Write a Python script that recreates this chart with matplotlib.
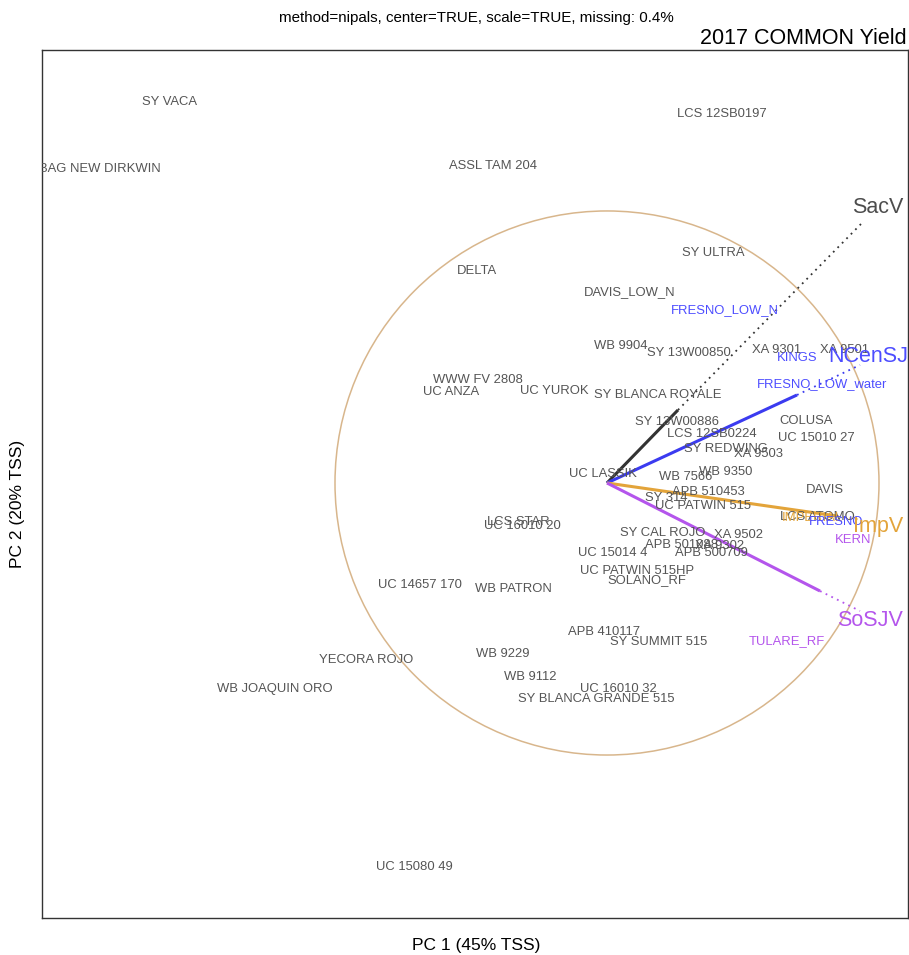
import numpy as np
import matplotlib
matplotlib.use("Agg")
import matplotlib.pyplot as plt
from matplotlib.patches import Circle

plt.rcParams['font.family'] = ['Liberation Sans', 'DejaVu Sans']

# genotype scores (PC1, PC2)
genotypes = ["SY VACA", "BAG NEW DIRKWIN", "ASSL TAM 204", "LCS 12SB0197", "SY ULTRA",
             "DELTA", "DAVIS_LOW_N", "WB 9904", "SY 13W00850", "XA 9301", "XA 9501",
             "WWW FV 2808", "UC ANZA", "UC YUROK", "SY BLANCA ROYALE", "SY 13W00886",
             "LCS 12SB0224", "COLUSA", "UC 15010 27", "SY REDWING", "XA 9503", "UC LASSIK",
             "WB 7566", "WB 9350", "DAVIS", "APB 510453", "SY 314", "UC PATWIN 515",
             "LCS ATOMO", "LCS STAR", "UC 16010 20", "SY CAL ROJO", "XA 9502", "APB 501088",
             "XA 9302", "APB 500709", "UC 15014 4", "UC PATWIN 515HP", "SOLANO_RF",
             "UC 14657 170", "WB PATRON", "APB 410117", "SY SUMMIT 515", "WB 9229",
             "YECORA ROJO", "WB JOAQUIN ORO", "WB 9112", "UC 16010 32",
             "SY BLANCA GRANDE 515", "UC 15080 49"]
gen_x = [-4.37, -5.07, -1.14, 1.15, 1.06, -1.30, 0.23, 0.14, 0.82, 1.70, 2.38,
         -1.29, -1.56, -0.53, 0.51, 0.70, 1.05, 1.99, 2.09, 1.19, 1.52, -0.04,
         0.79, 1.19, 2.18, 1.01, 0.59, 0.96, 2.10, -0.89, -0.85, 0.56, 1.32, 0.75,
         1.13, 1.04, 0.06, 0.30, 0.40, -1.87, -0.94, -0.03, 0.52, -1.04,
         -2.41, -3.32, -0.77, 0.11, -0.11, -1.93]
gen_y = [3.81, 3.14, 3.17, 3.69, 2.30, 2.12, 1.91, 1.37, 1.30, 1.33, 1.33,
         1.03, 0.91, 0.92, 0.88, 0.61, 0.49, 0.62, 0.45, 0.34, 0.29, 0.09,
         0.06, 0.11, -0.07, -0.09, -0.15, -0.23, -0.34, -0.39, -0.43, -0.50, -0.52, -0.62,
         -0.63, -0.70, -0.70, -0.88, -0.97, -1.02, -1.06, -1.49, -1.59, -1.71,
         -1.77, -2.06, -1.94, -2.06, -2.16, -3.84]

# environment group vectors
groups = ["SacV", "NCenSJ", "ImpV", "SoSJV"]
grp_colors = ["#333333", "#3b3bf0", "#e3a43a", "#b455ec"]
grp_label_colors = ["#4d4d4d", "#4d4dff", "#e3a43a", "#b455ec"]
vec_x = [0.71, 1.90, 2.30, 2.13]
vec_y = [0.73, 0.88, -0.33, -1.08]
ext_x = [2.55, 2.53, 2.55, 2.53]
ext_y = [2.60, 1.18, -0.37, -1.28]
lab_x = [2.71, 2.61, 2.71, 2.63]
lab_y = [2.75, 1.26, -0.44, -1.37]

# environments that carry a group colour
envs = ["FRESNO_LOW_N", "KINGS", "FRESNO_LOW_water", "IMPERIAL", "FRESNO", "KERN", "TULARE_RF"]
env_group = [1, 1, 1, 2, 1, 3, 3]
env_x = [1.18, 1.90, 2.15, 2.05, 2.29, 2.46, 1.80]
env_y = [1.73, 1.25, 0.99, -0.35, -0.39, -0.57, -1.58]

radius = 2.72

fig = plt.figure(figsize=(9.09, 9.55), dpi=100)
ax = fig.add_axes([0.0462, 0.0387, 0.9527, 0.909])
ax.set_xlim(-5.65, 3.01)
ax.set_ylim(-4.35, 4.33)
ax.set_xticks([])
ax.set_yticks([])
for s in ax.spines.values():
    s.set_linewidth(1.0)
    s.set_color("#333333")

ax.add_patch(Circle((0, 0), radius, fill=False, edgecolor="#d8b68c", linewidth=1.1))

for i, g in enumerate(groups):
    ax.plot([0, vec_x[i]], [0, vec_y[i]], color=grp_colors[i], linewidth=2.2,
            solid_capstyle="butt")
    ax.plot([vec_x[i], ext_x[i]], [vec_y[i], ext_y[i]], color=grp_colors[i],
            linewidth=1.3, linestyle=(0, (1, 2.5)))

for name, x, y in zip(genotypes, gen_x, gen_y):
    ax.text(x, y, name, ha="center", va="center", fontsize=9.4, color="#555555",
            clip_on=True)

for name, gi, x, y in zip(envs, env_group, env_x, env_y):
    ax.text(x, y, name, ha="center", va="center", fontsize=9.4,
            color=grp_label_colors[gi], clip_on=True)

for i, g in enumerate(groups):
    ax.text(lab_x[i], lab_y[i], g, ha="center", va="center", fontsize=15.5,
            color=grp_label_colors[i], clip_on=True)

fig.text(0.524, 1 - 18 / 955, "method=nipals, center=TRUE, scale=TRUE, missing: 0.4%",
         ha="center", va="center", fontsize=10.9)
fig.text(0.997, 1 - 39 / 955, "2017 COMMON Yield", ha="right", va="center", fontsize=15.5)
fig.text(0.524, 1 - 945 / 955, "PC 1 (45% TSS)", ha="center", va="center", fontsize=12.5)
fig.text(18 / 909, 1 - 504 / 955, "PC 2 (20% TSS)", ha="center", va="center",
         fontsize=12.5, rotation=90)

fig.savefig("out.png", dpi=100)
